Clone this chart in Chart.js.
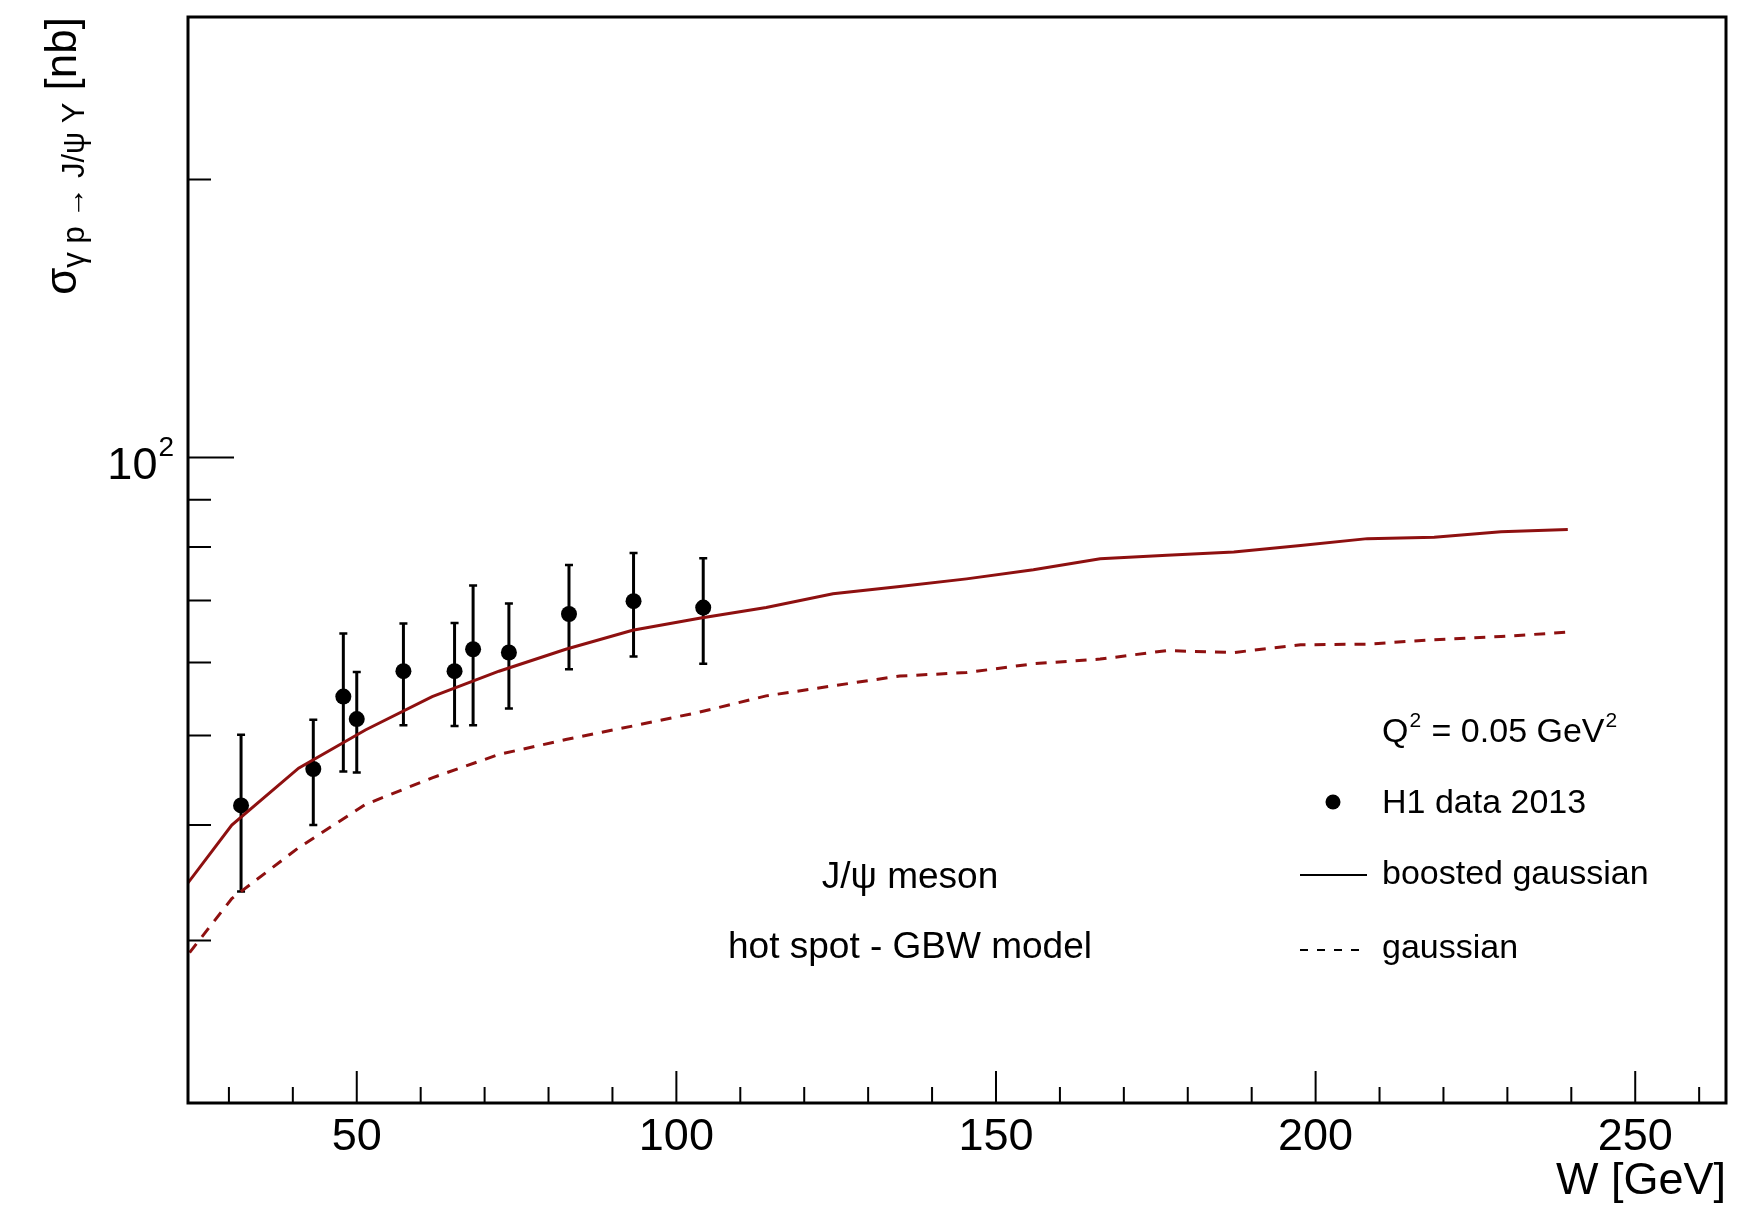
<!DOCTYPE html>
<html>
<head>
<meta charset="utf-8">
<script src="https://cdn.jsdelivr.net/npm/chart.js@4.4.0/dist/chart.umd.min.js"></script>
<style>
  html, body { margin: 0; padding: 0; background: #fff; }
  canvas { display: block; }
</style>
</head>
<body>
<canvas id="myChart" width="1742" height="1208"></canvas>
<script>
// model curves, W grid in GeV
var curveW = [20, 30.45, 40.9, 51.35, 61.8, 72.25, 82.7, 93.15, 103.6, 114.05, 124.5,
              134.95, 145.4, 155.85, 166.3, 176.75, 187.2, 197.65, 208.1, 218.55, 229.0, 239.45];
var boostedSigma = [32.1, 40.0, 46.1, 50.7, 55.1, 58.7, 62.0, 65.0, 67.0, 68.8, 71.2,
                    72.5, 73.9, 75.6, 77.7, 78.4, 79.0, 80.3, 81.7, 82.0, 83.1, 83.6];
var gaussSigma = [26.9, 33.3, 37.8, 42.1, 45.0, 47.7, 49.5, 51.2, 53.0, 55.2, 56.6,
                  58.0, 58.5, 59.8, 60.5, 61.8, 61.5, 62.7, 62.8, 63.5, 64.0, 64.7];

// H1 data 2013
var h1W = [31.9, 43.2, 47.9, 50.0, 57.3, 65.3, 68.2, 73.8, 83.2, 93.3, 104.2];
var h1Sigma = [42.0, 46.0, 55.1, 52.1, 58.7, 58.7, 62.0, 61.5, 67.7, 69.9, 68.8];
var h1High = [50.1, 52.0, 64.5, 58.6, 66.1, 66.2, 72.7, 69.5, 76.5, 78.8, 77.8];
var h1Low = [33.9, 40.0, 45.7, 45.6, 51.3, 51.2, 51.3, 53.5, 59.0, 60.9, 59.8];

// axis ticks
var xMajorTicks = [50, 100, 150, 200, 250];
var xMinorTicks = [30, 40, 60, 70, 80, 90, 110, 120, 130, 140, 160, 170, 180, 190, 210, 220, 230, 240, 260];
var yMajorTicks = [100];
var yMinorTicks = [30, 40, 50, 60, 70, 80, 90, 200];

var CURVE_RED = '#8e1010';
var FONT = '"Liberation Sans", Arial, Helvetica, sans-serif';

function toPoints(xs, ys) {
    var pts = [];
    for (var i = 0; i < xs.length; i++) {
        pts.push({ x: xs[i], y: ys[i] });
    }
    return pts;
}

// error bars under the markers
const errorBars = {
    id: 'errorBars',
    beforeDatasetsDraw: function (chart) {
        const ctx = chart.ctx;
        const xs = chart.scales.x, ys = chart.scales.y;
        ctx.save();
        ctx.strokeStyle = '#000';
        ctx.lineWidth = 3;
        for (var i = 0; i < h1W.length; i++) {
            var px = xs.getPixelForValue(h1W[i]);
            var top = ys.getPixelForValue(h1High[i]);
            var bot = ys.getPixelForValue(h1Low[i]);
            ctx.beginPath();
            ctx.moveTo(px, top); ctx.lineTo(px, bot);
            ctx.stroke();
            ctx.lineWidth = 2.5;
            ctx.beginPath();
            ctx.moveTo(px - 4, top); ctx.lineTo(px + 4, top);
            ctx.moveTo(px - 4, bot); ctx.lineTo(px + 4, bot);
            ctx.stroke();
            ctx.lineWidth = 3;
        }
        ctx.restore();
    }
};

// ROOT-like frame, inward ticks, labels, legend and texts
const rootFrame = {
    id: 'rootFrame',
    afterDatasetsDraw: function (chart) {
        const ctx = chart.ctx;
        const a = chart.chartArea;
        const xs = chart.scales.x, ys = chart.scales.y;
        ctx.save();

        // ticks
        ctx.strokeStyle = '#000';
        ctx.lineWidth = 2;
        ctx.beginPath();
        xMajorTicks.forEach(function (v) {
            var p = xs.getPixelForValue(v);
            ctx.moveTo(p, a.bottom); ctx.lineTo(p, a.bottom - 32);
        });
        xMinorTicks.forEach(function (v) {
            var p = xs.getPixelForValue(v);
            ctx.moveTo(p, a.bottom); ctx.lineTo(p, a.bottom - 16);
        });
        yMajorTicks.forEach(function (v) {
            var p = ys.getPixelForValue(v);
            ctx.moveTo(a.left, p); ctx.lineTo(a.left + 46, p);
        });
        yMinorTicks.forEach(function (v) {
            var p = ys.getPixelForValue(v);
            ctx.moveTo(a.left, p); ctx.lineTo(a.left + 23, p);
        });
        ctx.stroke();

        // frame
        ctx.lineWidth = 3;
        ctx.strokeRect(a.left, a.top, a.right - a.left, a.bottom - a.top);

        // x tick labels
        ctx.fillStyle = '#000';
        ctx.font = '45px ' + FONT;
        ctx.textAlign = 'center';
        ctx.textBaseline = 'alphabetic';
        xMajorTicks.forEach(function (v) {
            ctx.fillText(String(v), xs.getPixelForValue(v), a.bottom + 47);
        });

        // y tick label 10^2
        var y100 = ys.getPixelForValue(100);
        ctx.textAlign = 'right';
        ctx.font = '28px ' + FONT;
        var supW = ctx.measureText('2').width;
        ctx.fillText('2', a.left - 14, y100 - 2);
        ctx.font = '45px ' + FONT;
        ctx.fillText('10', a.left - 14 - supW - 1, y100 + 21);

        // x title
        ctx.textAlign = 'right';
        ctx.font = '45px ' + FONT;
        ctx.fillText('W [GeV]', a.right, 1194);

        // y title, rotated, right aligned at top of axis
        ctx.save();
        ctx.font = '44px ' + FONT;
        var w1 = ctx.measureText('\u03c3').width;
        var w3 = ctx.measureText(' [nb]').width;
        ctx.font = '31px ' + FONT;
        var w2 = ctx.measureText('\u03b3 p \u2192 J/\u03c8 Y').width;
        var total = w1 + w2 + w3;
        ctx.translate(76, 17 + total);
        ctx.rotate(-Math.PI / 2);
        ctx.textAlign = 'left';
        ctx.font = '44px ' + FONT;
        ctx.fillText('\u03c3', 0, 0);
        ctx.font = '31px ' + FONT;
        ctx.fillText('\u03b3 p \u2192 J/\u03c8 Y', w1, 8);
        ctx.font = '44px ' + FONT;
        ctx.fillText(' [nb]', w1 + w2, 0);
        ctx.restore();

        // centred labels
        ctx.textAlign = 'center';
        ctx.font = '37px ' + FONT;
        ctx.fillText('J/\u03c8 meson', 910, 888);
        ctx.fillText('hot spot - GBW model', 910, 958);

        // legend
        var tx = 1382;
        ctx.textAlign = 'left';
        ctx.font = '34px ' + FONT;
        ctx.fillText('Q', tx, 742);
        var qx = tx + ctx.measureText('Q').width;
        ctx.font = '21px ' + FONT;
        ctx.fillText('2', qx + 1, 727);
        qx += ctx.measureText('2').width + 2;
        ctx.font = '34px ' + FONT;
        ctx.fillText(' = 0.05 GeV', qx, 742);
        qx += ctx.measureText(' = 0.05 GeV').width;
        ctx.font = '21px ' + FONT;
        ctx.fillText('2', qx + 1, 727);

        ctx.font = '34px ' + FONT;
        ctx.fillText('H1 data 2013', tx, 813);
        ctx.fillText('boosted gaussian', tx, 884);
        ctx.fillText('gaussian', tx, 958);

        ctx.beginPath();
        ctx.arc(1333, 802, 7.5, 0, Math.PI * 2);
        ctx.fill();

        ctx.lineWidth = 2;
        ctx.beginPath();
        ctx.moveTo(1300, 875); ctx.lineTo(1367, 875);
        ctx.stroke();
        ctx.setLineDash([8, 9]);
        ctx.beginPath();
        ctx.moveTo(1300, 950); ctx.lineTo(1367, 950);
        ctx.stroke();
        ctx.setLineDash([]);

        ctx.restore();
    }
};

function initchart() {
    const data = {
        datasets: [
            {
                label: 'boosted gaussian',
                data: toPoints(curveW, boostedSigma),
                showLine: true,
                borderColor: CURVE_RED,
                borderWidth: 3,
                pointRadius: 0,
                fill: false,
                tension: 0
            },
            {
                label: 'gaussian',
                data: toPoints(curveW, gaussSigma),
                showLine: true,
                borderColor: CURVE_RED,
                borderWidth: 3,
                borderDash: [11, 9],
                pointRadius: 0,
                fill: false,
                tension: 0
            },
            {
                label: 'H1 data 2013',
                data: toPoints(h1W, h1Sigma),
                showLine: false,
                pointRadius: 8,
                pointBackgroundColor: '#000',
                pointBorderColor: '#000',
                pointBorderWidth: 0
            }
        ]
    };

    const config = {
        type: 'scatter',
        data: data,
        options: {
            responsive: false,
            animation: false,
            devicePixelRatio: 1,
            layout: { padding: { left: 188, top: 17, right: 16, bottom: 105 } },
            plugins: {
                legend: { display: false },
                tooltip: { enabled: false }
            },
            scales: {
                x: { type: 'linear', min: 23.6, max: 264.2, display: false },
                y: { type: 'logarithmic', min: 20, max: 300, display: false }
            }
        },
        plugins: [errorBars, rootFrame]
    };

    new Chart(document.getElementById('myChart'), config);
}

initchart();
</script>
</body>
</html>
